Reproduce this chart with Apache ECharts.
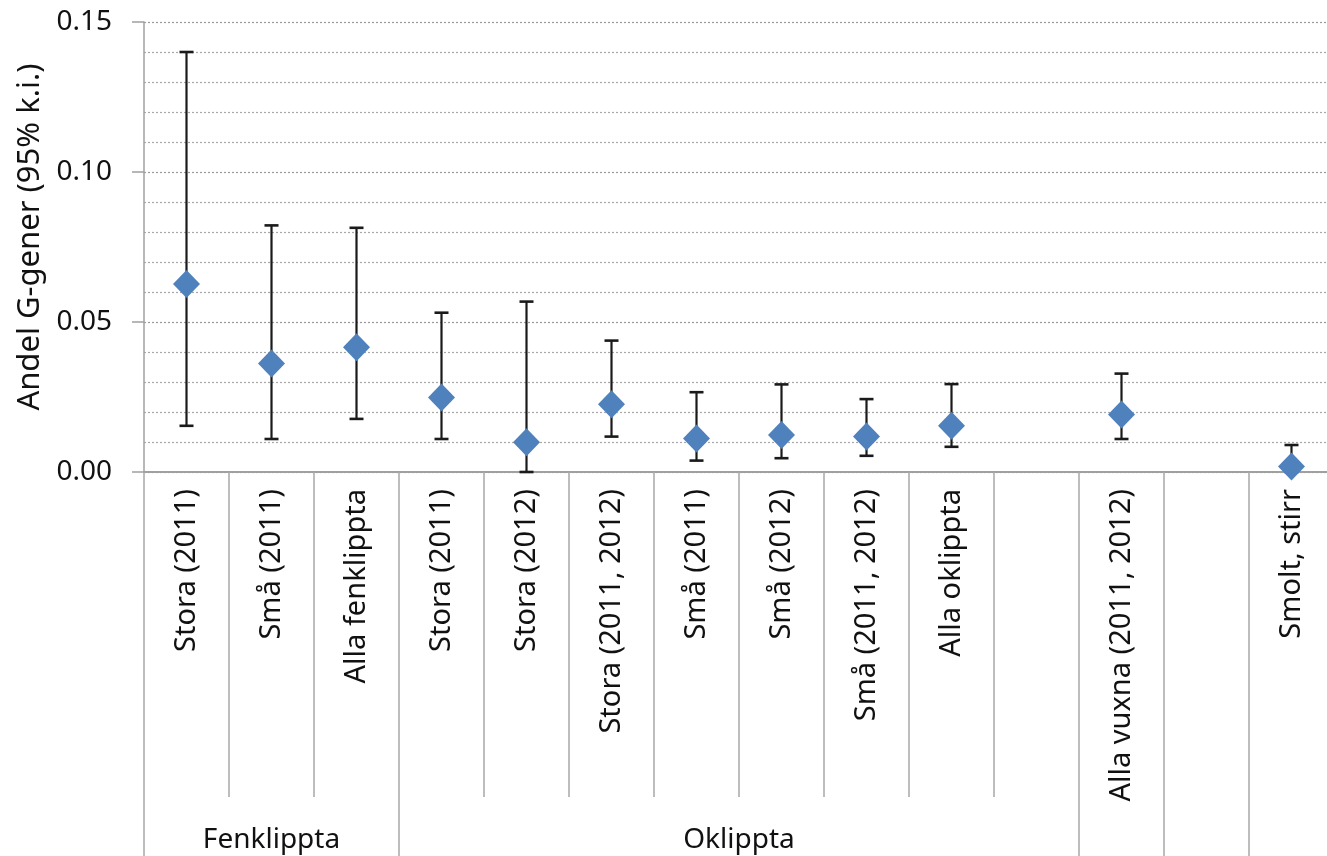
<!DOCTYPE html>
<html>
<head>
<meta charset="utf-8">
<script src="https://cdn.jsdelivr.net/npm/echarts@6/dist/echarts.min.js"></script>
<style>
  html, body { margin: 0; padding: 0; background: #fff; }
  #chart { width: 1327px; height: 856px; }
</style>
</head>
<body>
<div id="chart"></div>
<script>
// Sample categories (blank entries are spacer columns)
const categories = ['Stora (2011)', 'Små (2011)', 'Alla fenklippta', 'Stora (2011)', 'Stora (2012)',
  'Stora (2011, 2012)', 'Små (2011)', 'Små (2012)', 'Små (2011, 2012)', 'Alla oklippta', '',
  'Alla vuxna (2011, 2012)', '', 'Smolt, stirr'];
// Estimated proportion and 95% confidence limits
const estimate = [0.0627, 0.0362, 0.0416, 0.0248, 0.0099, 0.0226, 0.0112, 0.0123, 0.0118, 0.0154, null, 0.0192, null, 0.0018];
const upper    = [0.1400, 0.0822, 0.0814, 0.0531, 0.0568, 0.0438, 0.0266, 0.0292, 0.0243, 0.0293, null, 0.0328, null, 0.0090];
const lower    = [0.0154, 0.0110, 0.0177, 0.0110, 0.0000, 0.0118, 0.0038, 0.0046, 0.0054, 0.0084, null, 0.0110, null, 0.0000];
// Second-level grouping of the category axis
const groupNames = ['Fenklippta', 'Oklippta', '', '', ''];
const groupSpans = [3, 8, 1, 1, 1];
const yTicks = [0, 0.05, 0.10, 0.15];

const FONT = 'Noto Sans';
const TEXT = '#111';

const points = [];
const bars = [];
estimate.forEach((v, i) => {
  if (v !== null) {
    points.push([i, v]);
    bars.push([i, lower[i], upper[i]]);
  }
});

// Group boundaries and label centres
const groupStarts = [];
const groupCentres = {};
let acc = 0;
groupSpans.forEach((s, k) => {
  groupStarts.push(acc);
  if (groupNames[k]) groupCentres[acc + s / 2] = groupNames[k];
  acc += s;
});

const chart = echarts.init(document.getElementById('chart'));
chart.setOption({
  animation: false,
  grid: { left: 144, top: 22, width: 1190, height: 450, containLabel: false, outerBoundsMode: 'none' },
  xAxis: [
    {
      type: 'category',
      data: categories,
      position: 'bottom',
      boundaryGap: true,
      axisLine: { show: true, onZero: false, lineStyle: { color: '#a0a0a0', width: 2 } },
      axisTick: { show: true, interval: 0, length: 325, lineStyle: { color: '#a8a8a8', width: 1.5 } },
      axisLabel: {
        interval: 0, rotate: 90, margin: 17,
        fontFamily: FONT, fontSize: 29, color: TEXT
      },
      splitLine: { show: false }
    },
    {
      type: 'category',
      data: categories,
      position: 'bottom',
      boundaryGap: true,
      axisLine: { show: false, onZero: false },
      axisTick: {
        show: true, length: 384,
        interval: (idx) => groupStarts.indexOf(idx) !== -1,
        lineStyle: { color: '#a8a8a8', width: 1.5 }
      },
      axisLabel: { show: false },
      splitLine: { show: false }
    },
    {
      type: 'value',
      position: 'bottom',
      min: 0, max: categories.length, interval: 0.5,
      axisLine: { show: false, onZero: false },
      axisTick: { show: false },
      splitLine: { show: false },
      axisLabel: {
        margin: 354, fontFamily: FONT, fontSize: 28, color: TEXT,
        showMinLabel: true, showMaxLabel: true,
        formatter: (v) => groupCentres[v] || ''
      }
    }
  ],
  yAxis: {
    type: 'value',
    min: yTicks[0], max: yTicks[yTicks.length - 1], interval: 0.05,
    name: 'Andel G-gener (95% k.i.)',
    nameLocation: 'middle',
    nameRotate: 90,
    nameGap: 91,
    nameTextStyle: { fontFamily: FONT, fontSize: 31, color: TEXT, padding: [0, 0, 0, 20] },
    axisLine: { show: true, onZero: false, lineStyle: { color: '#a0a0a0', width: 1.5 } },
    axisTick: { show: true, inside: false, length: 12, lineStyle: { color: '#a0a0a0', width: 1.5 } },
    axisLabel: {
      margin: 32, fontFamily: FONT, fontSize: 28, color: TEXT,
      formatter: (v) => v.toFixed(2)
    },
    splitLine: { show: true, lineStyle: { color: '#9a9a9a', width: 1.2, type: [2, 2] } },
    minorTick: { show: false, splitNumber: 5 },
    minorSplitLine: { show: true, lineStyle: { color: '#a8a8a8', width: 1.2, type: [2, 2] } }
  },
  series: [
    {
      type: 'custom',
      name: '95% k.i.',
      xAxisIndex: 0,
      yAxisIndex: 0,
      data: bars,
      z: 3,
      renderItem: (params, api) => {
        const x = api.value(0);
        const lo = api.coord([x, api.value(1)]);
        const hi = api.coord([x, api.value(2)]);
        const hw = 7;
        const st = { stroke: '#1a1a1a', lineWidth: 2.2 };
        return {
          type: 'group',
          children: [
            { type: 'line', shape: { x1: hi[0], y1: hi[1], x2: lo[0], y2: lo[1] }, style: st },
            { type: 'line', shape: { x1: hi[0] - hw, y1: hi[1], x2: hi[0] + hw, y2: hi[1] }, style: { stroke: '#1a1a1a', lineWidth: 2.6 } },
            { type: 'line', shape: { x1: lo[0] - hw, y1: lo[1], x2: lo[0] + hw, y2: lo[1] }, style: { stroke: '#1a1a1a', lineWidth: 2.6 } }
          ]
        };
      }
    },
    {
      type: 'scatter',
      name: 'Andel',
      xAxisIndex: 0,
      yAxisIndex: 0,
      data: points,
      symbol: 'diamond',
      symbolSize: [27, 28],
      z: 4,
      itemStyle: { color: '#4f81bd', opacity: 1 }
    }
  ]
});
</script>
</body>
</html>
